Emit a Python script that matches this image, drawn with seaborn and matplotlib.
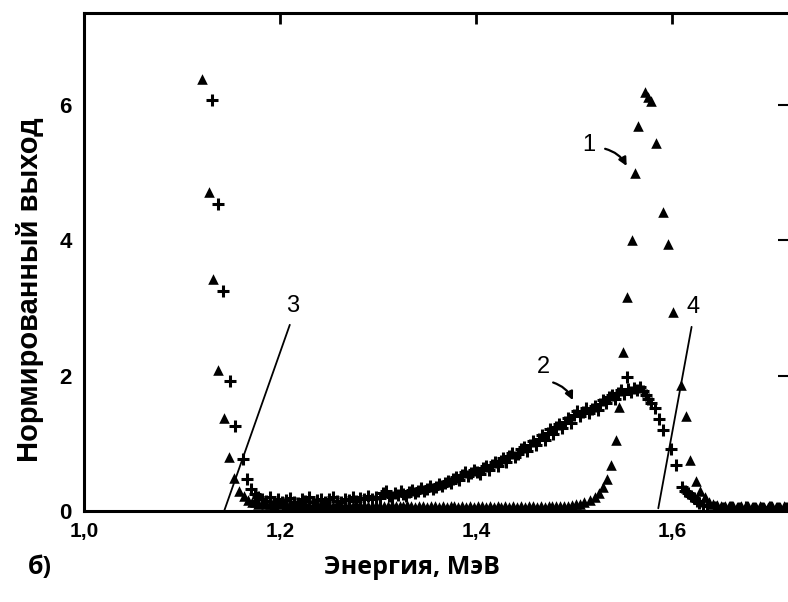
import matplotlib
matplotlib.use("Agg")
import matplotlib.pyplot as plt
import seaborn as sns
import pandas as pd

# ---------------- data ----------------
# series 1 (triangles): low-energy edge, baseline, main peak, tail
tri_x = [1.120, 1.128, 1.132, 1.137, 1.143, 1.148, 1.153, 1.158, 1.163, 1.167, 1.171,
         1.174, 1.178, 1.182, 1.186, 1.190, 1.194, 1.198, 1.202, 1.206, 1.210,
         1.214, 1.218, 1.222, 1.226, 1.230, 1.234, 1.238, 1.242, 1.246, 1.250,
         1.254, 1.258, 1.262, 1.266, 1.270, 1.274, 1.278, 1.282, 1.286, 1.290,
         1.294, 1.298, 1.302, 1.306, 1.310, 1.314, 1.318, 1.322, 1.326, 1.330,
         1.334, 1.338, 1.342, 1.346, 1.350, 1.354, 1.358, 1.362, 1.366, 1.370,
         1.374, 1.378, 1.382, 1.386, 1.390, 1.394, 1.398, 1.402, 1.406, 1.410,
         1.414, 1.418, 1.422, 1.426, 1.430, 1.434, 1.438, 1.442, 1.446, 1.450,
         1.454, 1.458, 1.462, 1.466, 1.470, 1.474, 1.478, 1.482, 1.486, 1.490,
         1.494, 1.498, 1.502, 1.506, 1.510,
         1.516, 1.521, 1.526, 1.530, 1.534, 1.538, 1.543, 1.546, 1.550, 1.554,
         1.559, 1.562, 1.565, 1.572, 1.576, 1.579, 1.584, 1.591, 1.596, 1.601,
         1.609, 1.614, 1.618, 1.624, 1.629, 1.634, 1.638,
         1.642, 1.646, 1.650, 1.654, 1.658, 1.662, 1.666, 1.670, 1.674, 1.678,
         1.682, 1.686, 1.690, 1.694, 1.698, 1.702, 1.706, 1.710, 1.714, 1.718,
         1.722]
tri_y = [6.38, 4.71, 3.43, 2.08, 1.38, 0.80, 0.49, 0.29, 0.22, 0.16, 0.13,
         0.13, 0.11, 0.12, 0.10, 0.11, 0.09, 0.10, 0.12, 0.09, 0.10,
         0.08, 0.11, 0.09, 0.10, 0.08, 0.09, 0.11, 0.08, 0.10, 0.09,
         0.08, 0.10, 0.09, 0.07, 0.09, 0.08, 0.10, 0.08, 0.09, 0.07,
         0.08, 0.09, 0.07, 0.08, 0.07, 0.09, 0.08, 0.07, 0.08, 0.09,
         0.07, 0.06, 0.07, 0.08, 0.06, 0.07, 0.08, 0.06, 0.07, 0.06,
         0.07, 0.08, 0.06, 0.07, 0.06, 0.07, 0.06, 0.07, 0.08, 0.06,
         0.07, 0.06, 0.07, 0.06, 0.07, 0.06, 0.07, 0.06, 0.07, 0.06,
         0.07, 0.08, 0.06, 0.07, 0.06, 0.07, 0.08, 0.07, 0.08, 0.07,
         0.08, 0.09, 0.10, 0.11, 0.13,
         0.16, 0.20, 0.27, 0.36, 0.48, 0.68, 1.05, 1.54, 2.35, 3.16,
         4.00, 5.00, 5.69, 6.19, 6.12, 6.05, 5.43, 4.42, 3.95, 2.94,
         1.86, 1.40, 0.75, 0.45, 0.30, 0.20, 0.14,
         0.10, 0.09, 0.08, 0.07, 0.08, 0.07, 0.06, 0.07, 0.06, 0.07,
         0.06, 0.06, 0.07, 0.06, 0.06, 0.07, 0.06, 0.06, 0.07, 0.06,
         0.06]

# series 2 (crosses)
plus_x = [1.131, 1.137, 1.142, 1.149, 1.154, 1.162, 1.166, 1.170, 1.174, 1.178,
          1.182, 1.186, 1.190, 1.194, 1.198, 1.202, 1.206, 1.210, 1.214, 1.218,
          1.222, 1.226, 1.230, 1.234, 1.238, 1.242, 1.246, 1.250, 1.254, 1.258,
          1.262, 1.266, 1.270, 1.274, 1.278, 1.282, 1.286, 1.290, 1.294, 1.298,
          1.302, 1.305, 1.308, 1.311, 1.314, 1.317, 1.320, 1.323, 1.326, 1.329,
          1.332, 1.335, 1.338, 1.341, 1.344, 1.347, 1.350, 1.353, 1.356, 1.359,
          1.362, 1.365, 1.368, 1.371, 1.374, 1.377, 1.380, 1.383, 1.386, 1.389,
          1.392, 1.395, 1.398, 1.401, 1.404, 1.407, 1.410, 1.413, 1.416, 1.419,
          1.422, 1.425, 1.428, 1.431, 1.434, 1.437, 1.440, 1.443, 1.446, 1.449,
          1.452, 1.455, 1.458, 1.461, 1.464, 1.467, 1.470, 1.473, 1.476, 1.479,
          1.482, 1.485, 1.488, 1.491, 1.494, 1.497, 1.500, 1.503, 1.506, 1.509,
          1.512, 1.515, 1.518, 1.521, 1.524, 1.527, 1.530, 1.533, 1.536, 1.539,
          1.542, 1.545, 1.548, 1.551, 1.554, 1.555, 1.558, 1.561, 1.564, 1.567,
          1.570, 1.573, 1.576, 1.579, 1.583, 1.587, 1.591, 1.599, 1.604, 1.610,
          1.613, 1.616, 1.619, 1.622, 1.625, 1.628, 1.632,
          1.636, 1.644, 1.652, 1.660, 1.668, 1.676, 1.684, 1.692, 1.700, 1.708,
          1.716]
plus_y = [6.07, 4.53, 3.25, 1.92, 1.25, 0.77, 0.47, 0.33, 0.25, 0.20,
          0.18, 0.15, 0.20, 0.14, 0.17, 0.13, 0.16, 0.19, 0.14, 0.12,
          0.17, 0.15, 0.20, 0.13, 0.16, 0.18, 0.14, 0.17, 0.21, 0.15,
          0.13, 0.18, 0.16, 0.20, 0.15, 0.19, 0.17, 0.22, 0.18, 0.20,
          0.19, 0.26, 0.30, 0.22, 0.20, 0.27, 0.24, 0.29, 0.25, 0.22,
          0.28, 0.31, 0.26, 0.30, 0.34, 0.29, 0.33, 0.37, 0.32, 0.36,
          0.40, 0.37, 0.42, 0.45, 0.41, 0.47, 0.50, 0.46, 0.53, 0.57,
          0.52, 0.56, 0.61, 0.58, 0.55, 0.63, 0.66, 0.61, 0.68, 0.72,
          0.67, 0.74, 0.79, 0.73, 0.81, 0.86, 0.80, 0.84, 0.91, 0.95,
          0.88, 0.98, 1.03, 0.97, 1.06, 1.12, 1.05, 1.15, 1.21, 1.14,
          1.24, 1.29, 1.22, 1.31, 1.37, 1.30, 1.42, 1.48, 1.40, 1.46,
          1.52, 1.45, 1.50, 1.55, 1.49, 1.58, 1.64, 1.60, 1.68, 1.72,
          1.66, 1.75, 1.79, 1.73, 1.98, 1.80, 1.76, 1.82, 1.78, 1.83,
          1.77, 1.72, 1.66, 1.60, 1.52, 1.36, 1.20, 0.92, 0.68, 0.36,
          0.30, 0.27, 0.22, 0.19, 0.15, 0.12, 0.09,
          0.07, 0.06, 0.05, 0.06, 0.05, 0.06, 0.05, 0.05, 0.06, 0.05,
          0.05]

# guide lines and labels
line3_x = [1.143, 1.210]
line3_y = [0.00, 2.75]
line4_x = [1.586, 1.620]
line4_y = [0.04, 2.72]
curve_labels = ["1", "2", "3", "4"]
label_x = [1.515, 1.469, 1.213, 1.621]
label_y = [5.41, 2.13, 3.03, 3.02]

x_ticks = [1.0, 1.2, 1.4, 1.6]
x_ticklabels = ["1,0", "1,2", "1,4", "1,6"]
y_ticks = [0, 2, 4, 6]
y_ticklabels = ["0", "2", "4", "6"]

# ---------------- plotting ----------------
sns.set_style("white")
plt.rcParams["font.family"] = ["Liberation Sans", "DejaVu Sans"]
plt.rcParams["text.color"] = "black"
plt.rcParams["axes.labelcolor"] = "black"
plt.rcParams["xtick.color"] = "black"
plt.rcParams["ytick.color"] = "black"

fig = plt.figure(figsize=(7.88, 6.02), dpi=100)
ax = fig.add_axes([84 / 788, 91 / 602, 708 / 788, 498 / 602])

df_tri = pd.DataFrame({"x": tri_x, "y": tri_y})
df_plus = pd.DataFrame({"x": plus_x, "y": plus_y})

sns.scatterplot(data=df_tri, x="x", y="y", marker="^", color="black", s=58,
                linewidth=0, ax=ax, zorder=3)
sns.scatterplot(data=df_plus, x="x", y="y", marker="+", color="black", s=64,
                linewidth=2.2, ax=ax, zorder=3)

ax.plot(line3_x, line3_y, color="black", lw=1.3)
ax.plot(line4_x, line4_y, color="black", lw=1.3)

for t, lx, ly in zip(curve_labels, label_x, label_y):
    ax.text(lx, ly, t, fontsize=17, ha="center", va="center", color="black")

ax.annotate("", xy=(1.555, 5.06), xytext=(1.529, 5.36),
            arrowprops=dict(arrowstyle="-|>", color="black", lw=1.6,
                            mutation_scale=12,
                            connectionstyle="arc3,rad=-0.25"))
ax.annotate("", xy=(1.500, 1.60), xytext=(1.476, 1.91),
            arrowprops=dict(arrowstyle="-|>", color="black", lw=1.6,
                            mutation_scale=12,
                            connectionstyle="arc3,rad=-0.25"))

ax.set_xlim(1.0, 1.0 + 708 / 980)
ax.set_ylim(0, 498 / 67.7)
ax.set_xticks(x_ticks)
ax.set_xticklabels(x_ticklabels)
ax.set_yticks(y_ticks)
ax.set_yticklabels(y_ticklabels)
ax.tick_params(axis="x", direction="in", length=8, width=2, top=True,
               labelsize=15, pad=8, colors="black")
ax.tick_params(axis="y", direction="in", length=10, width=1.5, right=True,
               labelsize=16, pad=9, colors="black")
for lab in ax.get_yticklabels() + ax.get_xticklabels():
    lab.set_fontweight("bold")
ax.set_xlabel("")
ax.set_ylabel("")
for sp in ax.spines.values():
    sp.set_linewidth(2.2)
    sp.set_color("black")

fig.text(30 / 788, (602 - 290) / 602, "Нормированный выход", rotation=90,
         ha="center", va="center", fontsize=21, fontweight="bold",
         color="black", family=["Liberation Sans", "DejaVu Sans"])
fig.text(412 / 788, (602 - 568) / 602, "Энергия, МэВ", ha="center",
         va="center", fontsize=18, fontweight="bold", color="black",
         family=["Open Sans", "DejaVu Sans"])
fig.text(40 / 788, (602 - 568) / 602, "б)", ha="center", va="center",
         fontsize=18, fontweight="bold", color="black",
         family=["Open Sans", "DejaVu Sans"])

fig.savefig("out.png", dpi=100)
